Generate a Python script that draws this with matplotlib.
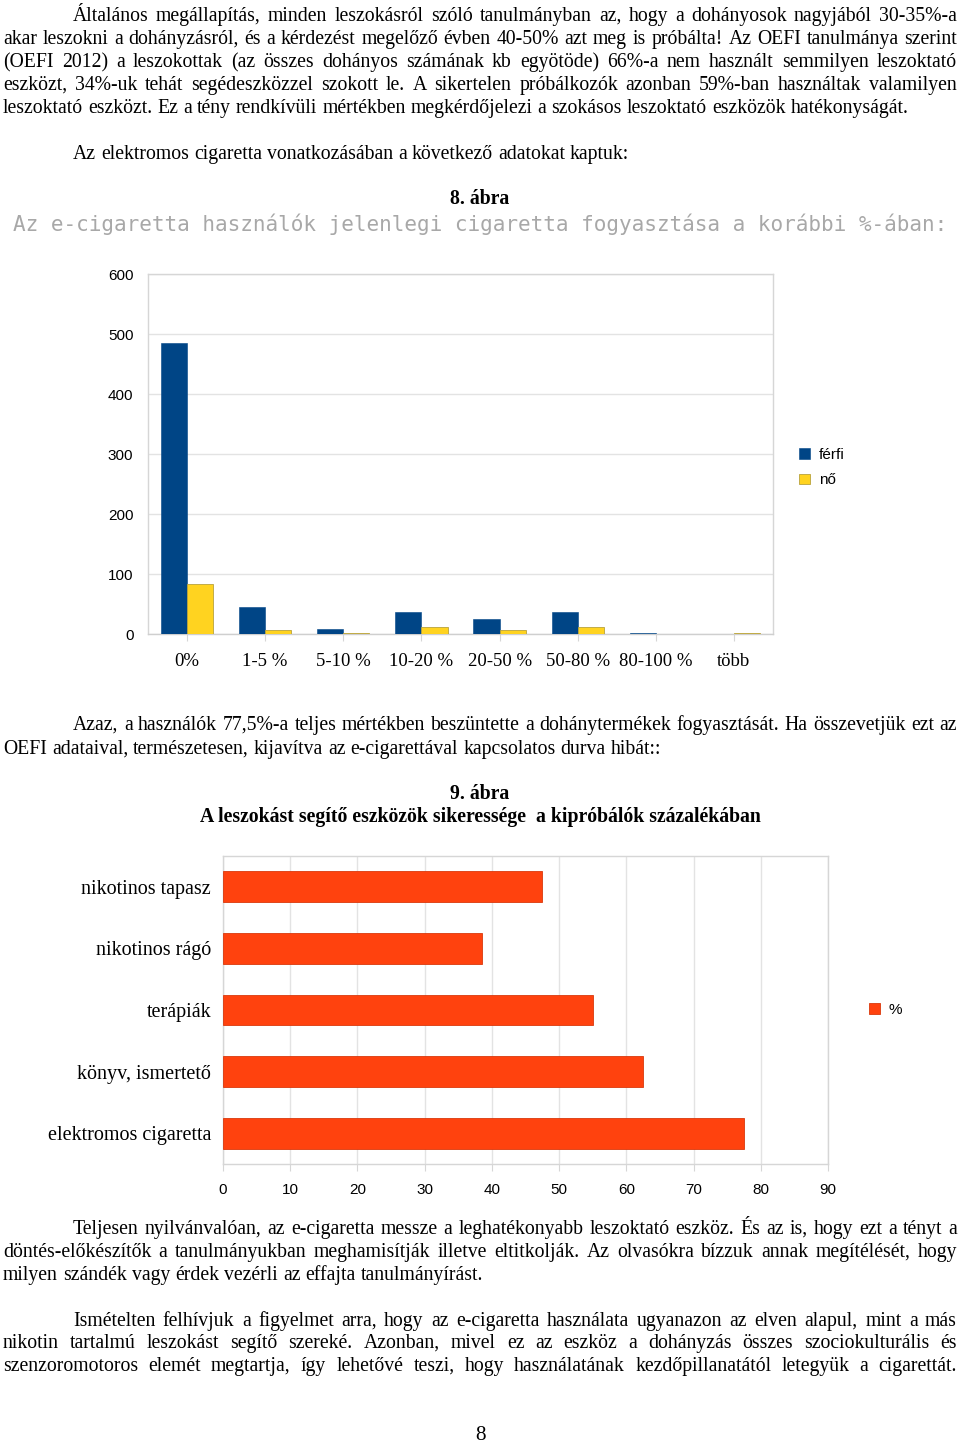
import matplotlib
matplotlib.use("Agg")
import matplotlib.pyplot as plt
import numpy as np

# ---------------- data ----------------
cat1 = ["0%", "1-5 %", "5-10 %", "10-20 %", "20-50 %", "50-80 %", "80-100 %", "több"]
ferfi = [485, 45, 9, 37, 25, 37, 2, 0]
no = [84, 7, 2, 12, 7, 12, 0, 2]
yticks1 = [0, 100, 200, 300, 400, 500, 600]

cat2 = ["nikotinos tapasz", "nikotinos rágó", "terápiák", "könyv, ismertető", "elektromos cigaretta"]
pct = [47.5, 38.5, 55.0, 62.5, 77.5]
xticks2 = [0, 10, 20, 30, 40, 50, 60, 70, 80, 90]

para1 = [
    "Általános megállapítás, minden leszokásról szóló tanulmányban az, hogy a dohányosok nagyjából 30-35%-a",
    "akar leszokni a dohányzásról, és a kérdezést megelőző évben 40-50% azt meg is próbálta! Az OEFI tanulmánya szerint",
    "(OEFI 2012) a leszokottak (az összes dohányos számának kb egyötöde) 66%-a nem használt semmilyen leszoktató",
    "eszközt, 34%-uk tehát segédeszközzel szokott le. A sikertelen próbálkozók azonban 59%-ban használtak valamilyen",
    "leszoktató eszközt. Ez a tény rendkívüli mértékben megkérdőjelezi a szokásos leszoktató eszközök hatékonyságát.",
]
para2 = ["Az elektromos cigaretta vonatkozásában a következő adatokat kaptuk:"]
para3 = [
    "Azaz, a használók 77,5%-a teljes mértékben beszüntette a dohánytermékek fogyasztását. Ha összevetjük ezt az",
    "OEFI adataival, természetesen, kijavítva az e-cigarettával kapcsolatos durva hibát::",
]
para4 = [
    "Teljesen nyilvánvalóan, az e-cigaretta messze a leghatékonyabb leszoktató eszköz. És az is, hogy ezt a tényt a",
    "döntés-előkészítők a tanulmányukban meghamisítják illetve eltitkolják. Az olvasókra bízzuk annak megítélését, hogy",
    "milyen szándék vagy érdek vezérli az effajta tanulmányírást.",
]
para5 = [
    "Ismételten felhívjuk a figyelmet arra, hogy az e-cigaretta használata ugyanazon az elven alapul, mint a más",
    "nikotin tartalmú leszokást segítő szereké. Azonban, mivel ez az eszköz a dohányzás összes szociokulturális és",
    "szenzoromotoros elemét megtartja, így lehetővé teszi, hogy használatának kezdőpillanatától letegyük a cigarettát.",
]

W, H = 960, 1444
fig = plt.figure(figsize=(W / 100, H / 100), dpi=100)
fig.patch.set_facecolor("white")
renderer = fig.canvas.get_renderer()

SERIF = ["Liberation Serif", "DejaVu Serif"]
SANS = ["Liberation Sans", "DejaVu Sans"]
BODY = 14.2
DY = 2  # vertical nudge for centred text
BASE = 7  # baseline offset below visual line centre


def fx(px):
    return px / W


def fy(py):
    return 1 - (py + DY) / H


def line_text(words_line, x0, x1, y, justify, size=BODY):
    words = words_line.split(" ")
    objs = []
    widths = []
    yb = 1 - (y + BASE) / H
    for w in words:
        t = fig.text(0, yb, w, fontsize=size, family=SERIF, va="baseline", ha="left")
        bb = t.get_window_extent(renderer)
        objs.append(t)
        widths.append(bb.width)
    h1 = fig.text(0, 0, "a a", fontsize=size, family=SERIF)
    h2 = fig.text(0, 0, "aa", fontsize=size, family=SERIF)
    space = h1.get_window_extent(renderer).width - h2.get_window_extent(renderer).width
    h1.remove()
    h2.remove()
    total = sum(widths)
    if justify and len(words) > 1:
        gap = (x1 - x0 - total) / (len(words) - 1)
    else:
        gap = space
    x = x0
    for t, w in zip(objs, widths):
        t.set_x(fx(x))
        x += w + gap


def paragraph(lines, ys, indent=73, left=3, right=957, justify_last=False):
    for i, (ln, y) in enumerate(zip(lines, ys)):
        x0 = indent if i == 0 else left
        last = i == len(lines) - 1
        line_text(ln, x0, right, y, justify=(not last) or justify_last)


paragraph(para1, [14, 37, 60, 83, 106])
paragraph(para2, [152])
fig.text(0.5, fy(197), "8. ábra", fontsize=BODY, family=SERIF, weight="bold", ha="center", va="center")
fig.text(fx(480), fy(222), "Az e-cigaretta használók jelenlegi cigaretta fogyasztása a korábbi %-ában:",
         fontsize=15.1, family=["DejaVu Sans Mono"], color="#a8a8a8", ha="center", va="center",
         fontweight="light")

paragraph(para3, [723, 747])
fig.text(0.5, fy(792), "9. ábra", fontsize=BODY, family=SERIF, weight="bold", ha="center", va="center")
fig.text(0.5, fy(815), "A leszokást segítő eszközök sikeressége  a kipróbálók százalékában",
         fontsize=BODY, family=SERIF, weight="bold", ha="center", va="center")
paragraph(para4, [1227, 1250, 1273])
paragraph(para5, [1319, 1341, 1364], justify_last=True)
fig.text(0.5, fy(1434), "8", fontsize=BODY + 1, family=SERIF, ha="center", va="center")

GRID = "#e3e3e3"
FRAME = "#d6d6d6"

# ---------------- chart 1 ----------------
ax1 = fig.add_axes([fx(148), 1 - 634 / H, fx(625), 360 / H])
x = np.arange(len(cat1))
bw = 0.335
ax1.bar(x - bw / 2, ferfi, width=bw, color="#004586", edgecolor="#004586", linewidth=0.4, label="férfi", zorder=3)
ax1.bar(x + bw / 2, no, width=bw, color="#ffd320", edgecolor="#b8a23c", linewidth=0.6, label="nő", zorder=3)
ax1.set_xlim(-0.5, len(cat1) - 0.5)
ax1.set_ylim(0, 600)
ax1.set_yticks(yticks1)
ax1.set_yticklabels([str(v) for v in yticks1], family=SANS, fontsize=11)
ax1.set_xticks(x)
ax1.set_xticklabels(cat1, family=SERIF, fontsize=13.5)
ax1.tick_params(axis="y", length=0, pad=10.5)
ax1.tick_params(axis="x", length=5, color=FRAME, pad=9)
ax1.yaxis.grid(True, color=GRID, linewidth=1.0, zorder=0)
for s in ax1.spines.values():
    s.set_color(FRAME)
    s.set_linewidth(1.0)
ax1.spines["bottom"].set_color("#cfcfcf")
ax1.legend(loc="center left", bbox_to_anchor=(1.02, 0.462), frameon=False, handlelength=0.7,
           handleheight=0.7, handletextpad=0.6, labelspacing=0.75,
           prop={"family": SANS, "size": 11})

# ---------------- chart 2 ----------------
ax2 = fig.add_axes([fx(223), 1 - 1164 / H, fx(605), 308 / H])
y = np.arange(len(cat2))
ax2.barh(y, pct, height=0.5, color="#ff420e", edgecolor="#d9380c", linewidth=0.6, label="%", zorder=3)
ax2.set_ylim(len(cat2) - 0.5, -0.5)
ax2.set_xlim(0, 90)
ax2.set_xticks(xticks2)
ax2.set_xticklabels([str(v) for v in xticks2], family=SANS, fontsize=11)
ax2.set_yticks(y)
ax2.set_yticklabels(cat2, family=SERIF, fontsize=14.5)
ax2.tick_params(axis="y", length=0, pad=8.5)
ax2.tick_params(axis="x", length=5, color=FRAME, pad=9)
ax2.xaxis.grid(True, color=GRID, linewidth=1.0, zorder=0)
for s in ax2.spines.values():
    s.set_color(FRAME)
    s.set_linewidth(1.0)
ax2.legend(loc="center left", bbox_to_anchor=(1.045, 0.5), frameon=False, handlelength=0.7,
           handleheight=0.7, handletextpad=0.6, prop={"family": SANS, "size": 11})

fig.savefig("out.png", dpi=100, facecolor="white")
